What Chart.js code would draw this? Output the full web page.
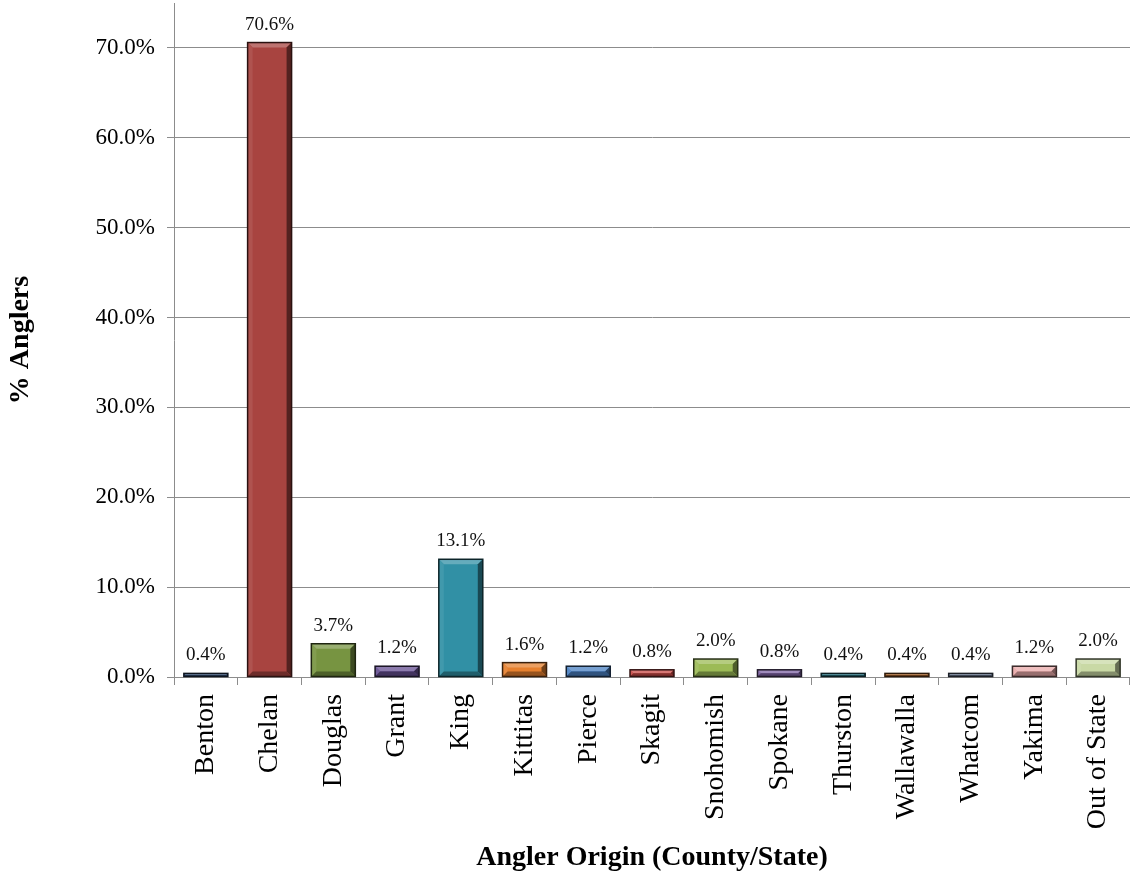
<!DOCTYPE html>
<html>
<head>
<meta charset="utf-8">
<script src="https://cdn.jsdelivr.net/npm/chart.js@4.4.0/dist/chart.umd.min.js"></script>
<style>
  html, body { margin: 0; padding: 0; background: #ffffff; }
  #wrap { width: 1130px; height: 875px; position: relative; }
</style>
</head>
<body>
<div id="wrap"><canvas id="c" width="1130" height="875"></canvas></div>
<script>
const categories = ["Benton", "Chelan", "Douglas", "Grant", "King", "Kittitas", "Pierce", "Skagit",
  "Snohomish", "Spokane", "Thurston", "Wallawalla", "Whatcom", "Yakima", "Out of State"];
const percentAnglers = [0.4, 70.6, 3.7, 1.2, 13.1, 1.6, 1.2, 0.8, 2.0, 0.8, 0.4, 0.4, 0.4, 1.2, 2.0];
const barColors = ["#34507a", "#a84440", "#779441", "#654f91", "#3190a5", "#e6802e", "#4a80c2", "#c84a46",
  "#9cbb56", "#7f64a4", "#2b7c8c", "#b5692b", "#6f7f9a", "#e9a9a9", "#c9d9a5"];
const yTicks = [0, 10, 20, 30, 40, 50, 60, 70];
const yMax = 75;

function shade(hex, f) {
  const n = parseInt(hex.slice(1), 16);
  let r = (n >> 16) & 255, g = (n >> 8) & 255, b = n & 255;
  if (f >= 0) { r += (255 - r) * f; g += (255 - g) * f; b += (255 - b) * f; }
  else { r *= (1 + f); g *= (1 + f); b *= (1 + f); }
  return `rgb(${Math.round(r)},${Math.round(g)},${Math.round(b)})`;
}

const bevelPlugin = {
  id: 'bevel',
  afterDatasetsDraw(chart) {
    const ctx = chart.ctx;
    const meta = chart.getDatasetMeta(0);
    meta.data.forEach((bar, i) => {
      const col = barColors[i];
      const l = bar.x - bar.width / 2, r = bar.x + bar.width / 2;
      const t = bar.y, bt = bar.base;
      const h = bt - t;
      const b = Math.min(5, h / 2);
      ctx.save();
      ctx.fillStyle = shade(col, 0.25);
      ctx.beginPath(); ctx.moveTo(l, t); ctx.lineTo(r, t); ctx.lineTo(r - b, t + b); ctx.lineTo(l + b, t + b); ctx.closePath(); ctx.fill();
      ctx.fillStyle = shade(col, 0.08);
      ctx.beginPath(); ctx.moveTo(l, t); ctx.lineTo(l + b, t + b); ctx.lineTo(l + b, bt - b); ctx.lineTo(l, bt); ctx.closePath(); ctx.fill();
      ctx.fillStyle = shade(col, -0.5);
      ctx.beginPath(); ctx.moveTo(r, t); ctx.lineTo(r - b, t + b); ctx.lineTo(r - b, bt - b); ctx.lineTo(r, bt); ctx.closePath(); ctx.fill();
      ctx.fillStyle = shade(col, -0.35);
      ctx.beginPath(); ctx.moveTo(l, bt); ctx.lineTo(l + b, bt - b); ctx.lineTo(r - b, bt - b); ctx.lineTo(r, bt); ctx.closePath(); ctx.fill();
      ctx.strokeStyle = shade(col, -0.75);
      ctx.lineWidth = 1.5;
      ctx.strokeRect(l, t, r - l, h);
      ctx.fillStyle = '#111111';
      ctx.font = '19px "Liberation Serif", "Times New Roman", serif';
      ctx.textAlign = 'center';
      ctx.textBaseline = 'alphabetic';
      ctx.fillText(percentAnglers[i].toFixed(1) + '%', bar.x, t - 13);
      ctx.restore();
    });
  }
};

new Chart(document.getElementById('c'), {
  type: 'bar',
  data: {
    labels: categories,
    datasets: [{
      data: percentAnglers,
      backgroundColor: barColors,
      borderWidth: 0,
      barPercentage: 0.69,
      categoryPercentage: 1.0
    }]
  },
  options: {
    responsive: false,
    animation: false,
    devicePixelRatio: 1,
    layout: { padding: { top: 3, right: 0, left: 0, bottom: 0 } },
    plugins: { legend: { display: false }, tooltip: { enabled: false } },
    scales: {
      x: {
        afterFit(scale) { scale.height = 198; scale.paddingLeft = 0; scale.paddingRight = 0; },
        grid: { display: true, drawOnChartArea: false, drawTicks: true, tickLength: 8, color: '#8c8c8c', offset: true },
        border: { display: true, color: '#8c8c8c', width: 1 },
        ticks: {
          color: '#000000', minRotation: 90, maxRotation: 90, autoSkip: false, padding: 9,
          font: { family: '"Liberation Serif", "Times New Roman", serif', size: 28 }
        },
        title: {
          display: true, text: 'Angler Origin (County/State)', color: '#000000',
          padding: { top: 0, bottom: 0 },
          font: { family: '"Liberation Serif", "Times New Roman", serif', size: 28, weight: 'bold' }
        }
      },
      y: {
        min: 0, max: yMax,
        afterFit(scale) { scale.width = 174; scale.paddingTop = 0; scale.paddingBottom = 0; },
        afterBuildTicks(scale) { scale.ticks = yTicks.map(v => ({ value: v })); },
        grid: { color: '#8c8c8c', tickLength: 7, drawTicks: true, lineWidth: 1 },
        border: { display: true, color: '#8c8c8c', width: 1 },
        ticks: {
          color: '#000000', padding: 12,
          font: { family: '"Liberation Serif", "Times New Roman", serif', size: 23 },
          callback: (v) => Number(v).toFixed(1) + '%'
        },
        title: {
          display: true, text: '% Anglers', color: '#000000',
          padding: { top: 4, bottom: 0 },
          font: { family: '"Liberation Serif", "Times New Roman", serif', size: 28, weight: 'bold' }
        }
      }
    }
  },
  plugins: [bevelPlugin]
});
</script>
</body>
</html>
